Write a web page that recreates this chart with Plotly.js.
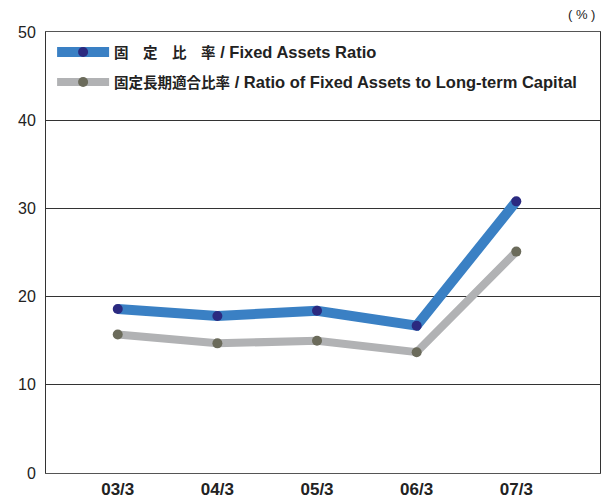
<!DOCTYPE html>
<html><head><meta charset="utf-8">
<script src="https://cdn.plot.ly/plotly-3.0.1.min.js"></script>
<style>body{margin:0;padding:0;background:#fff}#chart{width:609px;height:502px}</style>
</head><body><div id="chart"></div>
<script>
const categories = ['03/3','04/3','05/3','06/3','07/3'];
const fixedAssetsRatio = [18.6, 17.8, 18.4, 16.7, 30.8];
const longTermCapitalRatio = [15.7, 14.7, 15.0, 13.7, 25.1];
const seriesJa = ['固　定　比　率', '固定長期適合比率'];
const seriesEn = [' / Fixed Assets Ratio', ' / Ratio of Fixed Assets to Long-term Capital'];
const yTicks = [0,10,20,30,40,50];

const fontFam = '"Liberation Sans Narrow", "Liberation Sans", Arial, "Noto Sans CJK JP", sans-serif';
const label = i => '<span style="font-size:14.5px">' + seriesJa[i] + '</span>' + seriesEn[i];

const traces = [
  {x: categories, y: fixedAssetsRatio, name: label(0), type:'scatter', mode:'lines+markers',
   line:{color:'#3a80c4', width:10}, marker:{color:'#2b2a80', size:10}, legend:'legend', cliponaxis:false},
  {x: categories, y: longTermCapitalRatio, name: label(1), type:'scatter', mode:'lines+markers',
   line:{color:'#b1b2b4', width:8}, marker:{color:'#6b6b5b', size:10}, legend:'legend2', cliponaxis:false}
];
traces.reverse();

const legendBase = {
  bgcolor:'rgba(0,0,0,0)', borderwidth:0, xanchor:'left', yanchor:'middle',
  font:{family:fontFam, size:16.5, color:'#222', weight:'bold'}, itemwidth:52, itemclick:false
};

const layout = {
  width:609, height:502,
  margin:{l:46, r:9, t:32, b:29, pad:0},
  paper_bgcolor:'#fff', plot_bgcolor:'#fff',
  showlegend:true,
  legend: Object.assign({}, legendBase, {x:0.011, y:0.954}),
  legend2: Object.assign({}, legendBase, {x:0.011, y:0.886}),
  xaxis:{type:'category', range:[-0.72, 4.84], showgrid:false, zeroline:false,
    showline:true, linecolor:'#555', linewidth:1, mirror:true, ticks:'',
    tickfont:{family:fontFam, size:17, color:'#222', weight:'bold'}, ticklabelstandoff:1, fixedrange:true},
  yaxis:{range:[0,50], tickvals:yTicks, ticktext:yTicks.map(String), showgrid:true, gridcolor:'#333', gridwidth:1,
    zeroline:false, showline:true, linecolor:'#333', linewidth:1, mirror:true, ticks:'',
    tickfont:{family:'"Liberation Sans", Arial, sans-serif', size:16, color:'#222'}, ticklabelstandoff:6, fixedrange:true},
  annotations:[{text:'( % )', xref:'paper', yref:'paper', x:1, y:1, xanchor:'right', yanchor:'bottom',
    yshift:8, xshift:-3, showarrow:false, font:{family:'"Liberation Sans", Arial, sans-serif', size:13, color:'#222'}}]
};

Plotly.newPlot('chart', traces, layout, {displayModeBar:false, staticPlot:true});
</script></body></html>
